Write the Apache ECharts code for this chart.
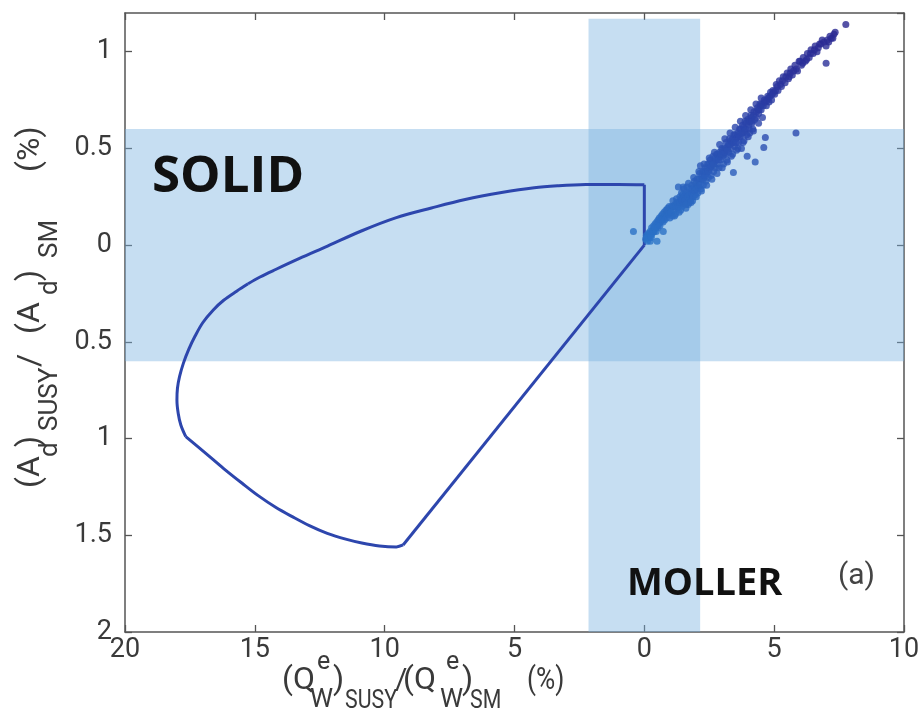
<!DOCTYPE html>
<html>
<head>
<meta charset="utf-8">
<script src="https://cdn.jsdelivr.net/npm/echarts@6/dist/echarts.min.js"></script>
<style>html,body{margin:0;padding:0;background:#fff}#c{width:923px;height:723px}</style>
</head>
<body>
<div id="c"></div>
<script>
// ---- data ----
const xTicks = [-20, -15, -10, -5, 0, 5, 10];
const xTickLabels = ['20', '15', '10', '5', '0', '5', '10'];
const yTicks = [-2, -1.5, -1, -0.5, 0, 0.5, 1];
const yTickLabels = ['2', '1.5', '1', '0.5', '0', '0.5', '1'];
const solidBand = [-0.6, 0.6];          // y range of SOLID band
const mollerBand = [-2.15, 2.15];       // x range of MOLLER band
const mollerBandTop = 1.17;
const boundary = [
  [0, 0], [0, 0.312], [-1, 0.314], [-2.25, 0.313], [-3.3, 0.307], [-4.24, 0.297], [-5.5, 0.272],
  [-6.9, 0.236], [-8.2, 0.192], [-9.55, 0.142], [-10.9, 0.073], [-12.2, -0.005], [-13.3, -0.07],
  [-14.2, -0.126], [-14.8, -0.165], [-15.26, -0.2],
  [-15.7, -0.238], [-16.2, -0.285], [-16.6, -0.335], [-17.0, -0.40], [-17.3, -0.47], [-17.55, -0.54],
  [-17.75, -0.61], [-17.9, -0.68], [-17.98, -0.74], [-18.0, -0.8], [-17.95, -0.87], [-17.85, -0.93],
  [-17.66, -0.99],
  [-16.9, -1.075], [-16.2, -1.155], [-15.5, -1.23], [-14.87, -1.295], [-14.2, -1.355], [-13.54, -1.405],
  [-12.9, -1.45], [-12.21, -1.49], [-11.5, -1.52], [-10.88, -1.54], [-10.2, -1.555], [-9.55, -1.56],
  [-9.29, -1.55], [0, 0]
];
// index ranges of the boundary pieces: [start, end, smooth]
const boundaryPieces = [[0, 1, 0], [1, 15, 0.35], [15, 28, 0.35], [28, 41, 0.35], [41, 42, 0]];
const susyPoints = [
  [0.05,0.03],[0.08,0.05],[0.12,0.02],[0.15,0.06],[0.18,0.04],[0.22,0.07],[0.23,0.02],[0.25,0.05],[0.28,0.09],
  [0.3,0.06],[0.33,0.08],[0.36,0.1],[0.38,0.07],[0.42,0.11],[0.45,0.09],[0.48,0.12],[0.49,0.02],[0.5,0.1],
  [0.53,0.13],[0.56,0.11],[0.58,0.14],[0.62,0.12],[0.65,0.15],[0.68,0.13],[0.7,0.16],[0.73,0.07],[0.73,0.14],
  [0.76,0.17],[0.8,0.15],[0.83,0.18],[0.86,0.16],[0.9,0.19],[0.93,0.17],[0.96,0.2],[1.0,0.18],[-0.42,0.07],
  [1.05,0.2],[1.08,0.15],[1.1,0.23],[1.14,0.18],[1.18,0.21],[1.2,0.16],[1.24,0.24],[1.27,0.19],[1.3,0.22],
  [1.31,0.3],[1.34,0.17],[1.37,0.25],[1.4,0.21],[1.43,0.27],[1.46,0.2],[1.5,0.24],[1.52,0.29],[1.55,0.22],
  [1.58,0.26],[1.6,0.19],[1.64,0.3],[1.66,0.24],[1.7,0.27],[1.72,0.22],[1.76,0.29],[1.8,0.25],[1.83,0.31],
  [1.86,0.23],[1.9,0.28],[1.93,0.33],[1.96,0.26],[2.0,0.3],
  [2.03,0.34],[2.06,0.27],[2.1,0.32],[2.13,0.37],[2.16,0.41],[2.18,0.29],[2.2,0.34],[2.24,0.38],[2.27,0.31],
  [2.3,0.35],[2.34,0.4],[2.37,0.33],[2.4,0.37],[2.44,0.42],[2.47,0.35],[2.5,0.39],[2.54,0.44],[2.57,0.36],
  [2.6,0.41],[2.64,0.46],[2.67,0.38],[2.7,0.43],[2.74,0.4],[2.78,0.47],[2.8,0.42],[2.84,0.45],[2.88,0.4],
  [2.9,0.48],[2.94,0.44],[2.98,0.5],
  [3.02,0.46],[3.05,0.42],[3.08,0.5],[3.12,0.47],[3.15,0.53],[3.18,0.44],[3.22,0.51],[3.25,0.48],[3.28,0.55],
  [3.32,0.5],[3.35,0.46],[3.38,0.53],[3.43,0.375],[3.45,0.57],[3.48,0.51],[3.52,0.55],[3.55,0.49],[3.6,0.58],
  [3.63,0.53],[3.67,0.6],[3.7,0.56],[3.74,0.5],[3.78,0.62],[3.8,0.58],[3.84,0.54],[3.88,0.64],[3.9,0.6],
  [3.94,0.57],[3.96,0.46],[3.98,0.65],
  [4.02,0.62],[4.06,0.58],[4.1,0.67],[4.14,0.63],[4.18,0.6],[4.22,0.69],[4.27,0.43],[4.3,0.66],[4.35,0.71],
  [4.4,0.68],[4.45,0.73],[4.5,0.7],[4.55,0.66],[4.6,0.505],[4.62,0.75],[4.66,0.557],[4.7,0.72],[4.75,0.77],
  [4.8,0.74],[4.86,0.79],[4.9,0.75],[4.95,0.8],
  [5.02,0.78],[5.08,0.83],[5.15,0.8],[5.2,0.85],[5.28,0.82],[5.35,0.87],[5.42,0.84],[5.5,0.89],[5.58,0.87],
  [5.64,0.91],[5.7,0.88],[5.84,0.58],[5.8,0.93],[5.9,0.9],[5.96,0.95],
  [6.05,0.93],[6.12,0.97],[6.2,0.95],[6.28,0.99],[6.35,0.97],[6.42,1.01],[6.5,0.99],[6.58,1.03],[6.65,1.0],
  [7.0,0.94],[6.75,1.04],[6.85,1.06],[7.0,1.03],[7.1,1.05],[7.2,1.07],[7.3,1.09],[7.76,1.14],
  [0.1,0.04],[0.2,0.06],[0.27,0.04],[0.35,0.07],[0.4,0.09],[0.46,0.07],[0.52,0.09],[0.6,0.1],[0.64,0.13],
  [0.72,0.12],[0.78,0.13],[0.85,0.14],[0.88,0.18],[0.95,0.16],[0.98,0.14],
  [1.03,0.17],[1.12,0.2],[1.16,0.15],[1.22,0.2],[1.26,0.22],[1.33,0.2],[1.36,0.22],[1.42,0.24],[1.45,0.23],
  [1.48,0.26],[1.54,0.25],[1.57,0.23],[1.62,0.27],[1.68,0.25],[1.69,0.21],[1.74,0.26],[1.78,0.23],[1.82,0.27],
  [1.85,0.29],[1.88,0.25],[1.92,0.3],[1.95,0.28],[1.99,0.32],
  [2.02,0.29],[2.08,0.3],[2.12,0.34],[2.15,0.31],[2.22,0.36],[2.26,0.34],[2.29,0.38],[2.33,0.36],[2.36,0.38],
  [2.42,0.4],[2.46,0.38],[2.49,0.42],[2.52,0.4],[2.56,0.41],[2.62,0.43],[2.66,0.42],[2.72,0.45],[2.76,0.44],
  [2.82,0.47],[2.86,0.44],[2.92,0.46],[2.96,0.47],
  [3.0,0.49],[3.06,0.47],[3.1,0.48],[3.14,0.5],[3.2,0.49],[3.24,0.52],[3.3,0.52],[3.34,0.54],[3.4,0.55],
  [3.44,0.53],[3.5,0.57],[3.54,0.53],[3.58,0.56],[3.62,0.57],[3.66,0.56],[3.72,0.6],[3.76,0.58],[3.82,0.61],
  [3.86,0.59],[3.92,0.63],[4.0,0.64],[4.04,0.6],[4.08,0.64],[4.12,0.66],[4.16,0.64],[4.2,0.67],[4.25,0.65],
  [4.32,0.69],[4.38,0.7],[4.42,0.7],[4.48,0.72],[4.52,0.73],[4.58,0.72],[4.65,0.74],[4.72,0.75],[4.78,0.76],
  [4.84,0.77],[4.92,0.78],[4.98,0.79],[5.05,0.8],[5.12,0.82],[5.24,0.83],[5.32,0.85],[5.45,0.87],[5.55,0.86],
  [5.62,0.89],[5.75,0.9],[5.85,0.91],[6.0,0.95],[6.1,0.94],[6.25,0.96],[6.4,0.99],[6.55,1.01],[6.7,1.02],
  [6.8,1.04],[6.92,1.05],[7.05,1.06],[7.15,1.08],[7.26,1.07],[7.35,1.1],
  [1.5,0.3],[1.7,0.32],[1.9,0.35],[2.1,0.38],[2.3,0.42],[2.5,0.45],[2.7,0.48],[2.9,0.52],[3.1,0.55],
  [3.3,0.58],[3.5,0.61],[3.7,0.64],[3.9,0.67],[4.1,0.7],[4.3,0.73],[4.5,0.76],
  [1.4,0.18],[1.6,0.21],[1.8,0.22],[2.0,0.25],[2.2,0.28],[2.4,0.31],[2.6,0.34],[2.8,0.37],[3.0,0.4],
  [3.2,0.43],[3.4,0.47],[3.6,0.5],[3.8,0.53],[4.0,0.56],[4.2,0.59],[4.4,0.63]
];

// ---- chart ----
const chart = echarts.init(document.getElementById('c'), null, {renderer: 'canvas'});
const FONT = 'Roboto, "Liberation Sans", sans-serif';
const TXT = '#3a3a3a';
const AX = '#555';
const CURVE = '#2d46ad';

function tickFmt(ticks, labels) {
  return function (v) {
    const i = ticks.findIndex(t => Math.abs(t - v) < 1e-6);
    return i < 0 ? '' : labels[i];
  };
}

function axisBase(extra) {
  return Object.assign({
    type: 'value',
    axisLine: {show: true, onZero: false, lineStyle: {color: AX, width: 1.5}},
    axisTick: {show: true, inside: true, length: 7, lineStyle: {color: AX, width: 1.3}},
    splitLine: {show: false}
  }, extra);
}

const xBase = {min: -20, max: 10, interval: 5};
const yBase = {min: -2, max: 1.2, interval: 0.5};

// axis title pieces (text, position, size)
const xTitle = [
  ['(Q', 282, 681, 32], ['e', 317, 663, 25], ['W', 310, 700, 26], [')', 333, 681, 32],
  ['SUSY', 345, 701, 26], ['/', 395, 681, 30], ['(Q', 403, 681, 32], ['e', 446, 663, 25],
  ['W', 440, 700, 26], [')', 462, 681, 32], ['SM', 470, 701, 26], ['(%)', 527, 681, 32]
];
const yTitle = [
  ['(A', 31, 488, 32], ['d', 50, 457, 26], [')', 31, 447, 32], ['SUSY', 50, 431, 26],
  ['/', 31, 367, 32], ['(A', 31, 334, 32], ['d', 50, 295, 26], [')', 31, 281, 32],
  ['SM', 50, 258, 26], ['(%)', 31, 172, 32]
];

const graphics = [];
xTitle.forEach(p => {
  const sx = (p[0] === 'SUSY' || p[0] === 'SM' || p[0] === '(%)') ? 0.82 : 1;
  graphics.push({type: 'text', x: p[1], y: p[2], scaleX: sx, silent: true, z: 100,
    style: {text: p[0], fontFamily: FONT, fontSize: p[3], fill: TXT, align: 'left', verticalAlign: 'middle'}});
});
yTitle.forEach(p => {
  graphics.push({type: 'text', x: p[1], y: p[2], rotation: Math.PI / 2, silent: true, z: 100,
    style: {text: p[0], fontFamily: FONT, fontSize: p[3], fill: TXT, align: 'left', verticalAlign: 'middle'}});
});
graphics.push({type: 'text', x: 152, y: 177, silent: true, z: 100,
  style: {text: 'SOLID', fontFamily: '"Open Sans", sans-serif', fontWeight: 'bold', fontSize: 51, fill: '#111', align: 'left', verticalAlign: 'middle'}});
graphics.push({type: 'text', x: 627, y: 584, silent: true, z: 100,
  style: {text: 'MOLLER', fontFamily: '"Open Sans", sans-serif', fontWeight: 'bold', fontSize: 38, fill: '#111', align: 'left', verticalAlign: 'middle'}});
graphics.push({type: 'text', x: 838, y: 576, silent: true, z: 100,
  style: {text: '(a)', fontFamily: FONT, fontSize: 30, fill: '#444', align: 'left', verticalAlign: 'middle'}});

const curveSeries = boundaryPieces.map(p => ({
  type: 'line', z: 3, silent: true, data: boundary.slice(p[0], p[1] + 1), showSymbol: false,
  smooth: p[2] ? p[2] : false,
  lineStyle: {color: CURVE, width: 3}, itemStyle: {color: CURVE}
}));

const option = {
  animation: false,
  backgroundColor: '#fff',
  grid: {left: 125, right: 19, top: 13, bottom: 91, containLabel: false},
  xAxis: [
    axisBase(Object.assign({position: 'bottom',
      axisLabel: {show: true, margin: 5, fontFamily: FONT, fontSize: 27, color: TXT,
        formatter: tickFmt(xTicks, xTickLabels)}}, xBase)),
    axisBase(Object.assign({position: 'top', axisLabel: {show: false}}, xBase))
  ],
  yAxis: [
    axisBase(Object.assign({position: 'left',
      axisLabel: {show: true, margin: 13, fontFamily: FONT, fontSize: 27, color: TXT, showMaxLabel: false,
        formatter: tickFmt(yTicks, yTickLabels)}}, yBase)),
    axisBase(Object.assign({position: 'right', axisLabel: {show: false}}, yBase))
  ],
  visualMap: {
    type: 'continuous', show: false, seriesIndex: 1, dimension: 1, min: 0, max: 1.15,
    inRange: {color: ['#2a74c8', '#2b64bf', '#2b48ae', '#2a329b', '#2a2790']}
  },
  graphic: graphics,
  series: [
    {
      type: 'scatter', z: 1, silent: true, symbolSize: 0,
      data: [[0, 0]], itemStyle: {opacity: 0},
      markArea: {
        silent: true,
        itemStyle: {color: 'rgba(120,177,224,0.42)', borderWidth: 0},
        data: [
          [{coord: [-20, solidBand[0]]}, {coord: [10, solidBand[1]]}],
          [{coord: [mollerBand[0], -2]}, {coord: [mollerBand[1], mollerBandTop]}]
        ]
      }
    },
    {
      type: 'scatter', z: 4, silent: true, data: susyPoints, symbolSize: 7
    }
  ].concat(curveSeries)
};
chart.setOption(option);
</script>
</body>
</html>
